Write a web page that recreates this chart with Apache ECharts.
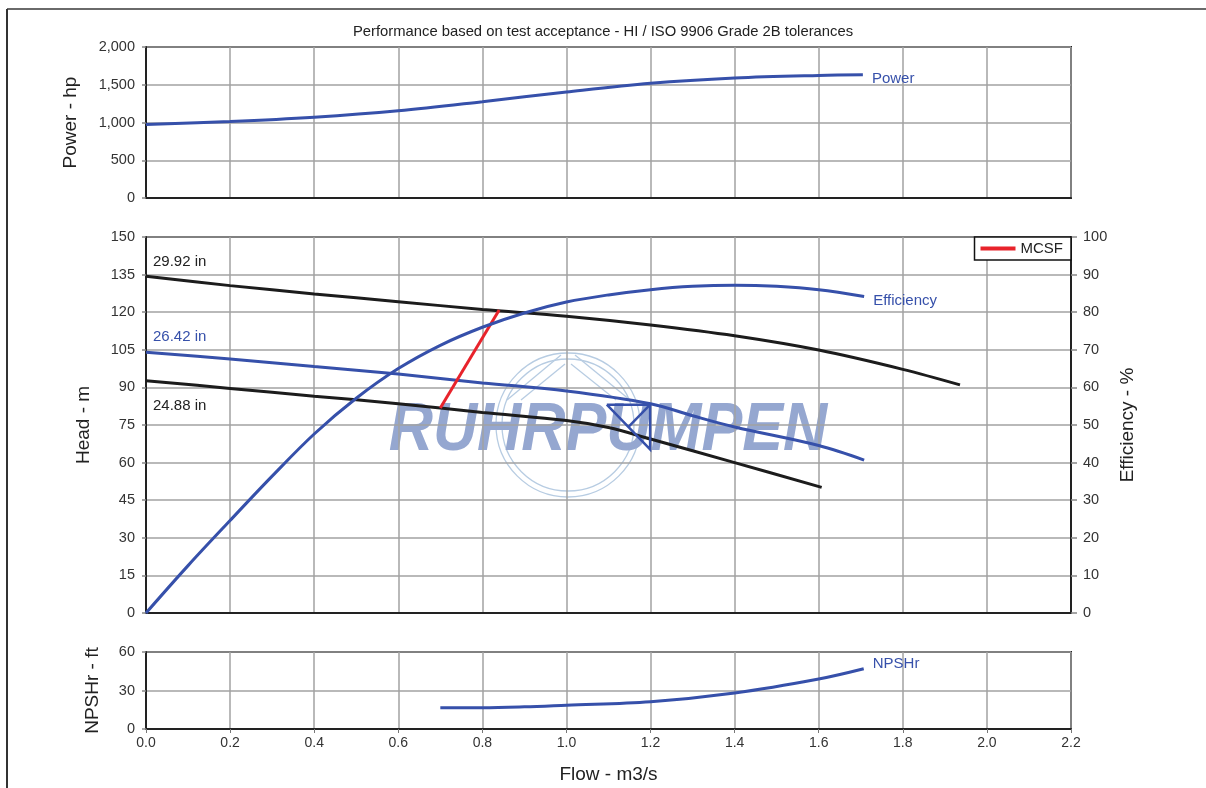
<!DOCTYPE html>
<html><head><meta charset="utf-8">
<script src="https://cdn.jsdelivr.net/npm/echarts@6/dist/echarts.min.js"></script>
<style>html,body{margin:0;padding:0;background:#fff}#c{width:1206px;height:788px}</style>
</head><body><div id="c"></div>
<script>
// ---- data ----
const xTicks = [0, 0.2, 0.4, 0.6, 0.8, 1.0, 1.2, 1.4, 1.6, 1.8, 2.0, 2.2];

const powerFlow = [0, 0.2, 0.4, 0.6, 0.8, 1.0, 1.2, 1.4, 1.6, 1.705];
const powerHp   = [975, 1013, 1070, 1155, 1275, 1405, 1520, 1590, 1624, 1632];

const head2992Flow = [0, 0.2, 0.4, 0.6, 0.8, 1.0, 1.2, 1.4, 1.6, 1.8, 1.936];
const head2992     = [134.3, 130.6, 127.3, 124.2, 121.1, 118.4, 114.9, 110.6, 104.9, 97.2, 91];

const head2642Flow = [0, 0.2, 0.4, 0.6, 0.8, 1.0, 1.2, 1.3, 1.4, 1.6, 1.708];
const head2642     = [104, 101.3, 98.3, 95.3, 91.8, 88.6, 83.5, 78.7, 74.2, 66.8, 61];

const head2488Flow = [0, 0.2, 0.4, 0.6, 0.8, 1.0, 1.1, 1.2, 1.4, 1.607];
const head2488     = [92.7, 89.6, 86.5, 83.5, 80.0, 76.8, 74.0, 69.4, 60.0, 50.1];

const mcsfFlow = [0.70, 0.84];
const mcsfHead = [81.8, 120.9];

const effFlow = [0, 0.1, 0.2, 0.3, 0.4, 0.5, 0.6, 0.7, 0.8, 0.9, 1.0, 1.1, 1.2, 1.3, 1.4, 1.5, 1.6, 1.708];
const effPct  = [0, 12.6, 24.6, 36.4, 47.6, 57.1, 65, 71.2, 76, 79.8, 82.7, 84.6, 86, 86.9, 87.2, 86.9, 86, 84.2];

const npshFlow = [0.70, 0.8, 0.9, 1.0, 1.2, 1.4, 1.6, 1.707];
const npshFt   = [16.6, 16.6, 17.3, 18.6, 21.3, 28.1, 39, 47];

const bepFlow = [1.096, 1.199, 1.199, 1.096];
const bepHead = [83.1, 83.1, 65.3, 83.1];
const bepInnerFlow = [1.199, 1.147];
const bepInnerHead = [83.1, 74.2];

const headLabels = ['29.92 in', '26.42 in', '24.88 in'];

// ---- styles ----
const BLUE = '#3650aa';
const BLACK = '#1c1c1c';
const RED = '#e8232b';
const GRIDC = '#a2a2a2';
const FONT = '"Liberation Sans", Arial, sans-serif';

function pts(xs, ys) { return xs.map((x, i) => [x, ys[i]]); }
function withFirstLabel(xs, ys, text, color, offset) {
  const d = pts(xs, ys);
  d[0] = { value: d[0], label: { show: true, formatter: text, position: 'right', distance: 5, offset: offset, color: color, fontSize: 15, fontFamily: FONT } };
  return d;
}

const chart = echarts.init(document.getElementById('c'), null, { renderer: 'canvas' });

const gridCommon = { left: 146, right: 135, show: true, borderColor: '#222', borderWidth: 2, containLabel: false };

function xAxisFor(i, showLabels) {
  return {
    type: 'value', gridIndex: i, min: 0, max: 2.2, interval: 0.2,
    axisLine: { show: true, lineStyle: { color: '#222', width: 2 } },
    axisTick: { show: showLabels, length: 4, lineStyle: { color: '#777' } },
    axisLabel: { show: showLabels, margin: 7, color: '#333', fontSize: 14, fontFamily: FONT, formatter: v => v.toFixed(1) },
    splitLine: { show: true, lineStyle: { color: GRIDC, width: 1.5 } },
    name: showLabels ? 'Flow - m3/s' : '', nameLocation: 'middle', nameGap: 36,
    nameTextStyle: { fontSize: 19, color: '#222', fontFamily: FONT }
  };
}
function yAxisFor(i, min, max, interval, name, gap, fmt, pos) {
  return {
    type: 'value', gridIndex: i, min: min, max: max, interval: interval, position: pos || 'left',
    axisLine: { show: true, lineStyle: { color: '#222', width: 2 } },
    axisTick: { show: true, length: pos === 'right' ? 6 : 4, lineStyle: { color: '#888', width: 1.5 } },
    axisLabel: { margin: pos === 'right' ? 12 : 11, color: '#333', fontSize: 14.5, fontFamily: FONT, formatter: fmt },
    splitLine: { show: pos !== 'right', lineStyle: { color: GRIDC, width: 1.5 } },
    name: name, nameLocation: 'middle', nameGap: gap, nameRotate: 90,
    nameTextStyle: { fontSize: 19, color: '#222', fontFamily: FONT }
  };
}

const lineBase = { type: 'line', smooth: 0.35, showSymbol: true, symbol: 'circle', symbolSize: 0, silent: true, animation: false, z: 5 };

const WM = '#b7cce2';
const option = {
  animation: false,
  backgroundColor: '#fff',
  title: {
    text: 'Performance based on test acceptance - HI / ISO 9906 Grade 2B tolerances',
    left: 'center', top: 19,
    textStyle: { fontSize: 14.8, fontWeight: 'normal', color: '#222', fontFamily: FONT }
  },
  legend: {
    data: [{ name: 'MCSF', icon: 'rect' }],
    right: 135, top: 237, itemWidth: 35, itemHeight: 4, itemGap: 6,
    padding: [4, 8, 4, 6], borderColor: '#111', borderWidth: 1.5, backgroundColor: '#fff',
    textStyle: { fontSize: 15, color: '#222', fontFamily: FONT }, selectedMode: false
  },
  grid: [
    Object.assign({ top: 47, height: 151 }, gridCommon),
    Object.assign({ top: 237, height: 376 }, gridCommon),
    Object.assign({ top: 652, height: 77 }, gridCommon)
  ],
  xAxis: [xAxisFor(0, false), xAxisFor(1, false), xAxisFor(2, true)],
  yAxis: [
    yAxisFor(0, 0, 2000, 500, 'Power - hp', 66, v => v.toLocaleString('en-US')),
    yAxisFor(1, 0, 150, 15, 'Head - m', 53, v => String(v)),
    yAxisFor(1, 0, 100, 10, 'Efficiency - %', 47, v => String(v), 'right'),
    yAxisFor(2, 0, 60, 30, 'NPSHr - ft', 44, v => String(v))
  ],
  graphic: [
    { type: 'line', shape: { x1: 7, y1: 9, x2: 1206, y2: 9 }, style: { stroke: '#6a6a6a', lineWidth: 2 }, z: 100 },
    { type: 'line', shape: { x1: 7, y1: 9, x2: 7, y2: 788 }, style: { stroke: '#333', lineWidth: 2 }, z: 100 },
    { type: 'circle', shape: { cx: 568, cy: 425, r: 72 }, style: { fill: 'none', stroke: WM, lineWidth: 1.3 }, z: -10 },
    { type: 'circle', shape: { cx: 568, cy: 425, r: 66 }, style: { fill: 'none', stroke: WM, lineWidth: 1.3 }, z: -10 },
    { type: 'polyline', shape: { points: [[507, 400], [561, 355]] }, style: { stroke: WM, lineWidth: 1.3 }, z: -10 },
    { type: 'polyline', shape: { points: [[521, 400], [565, 364]] }, style: { stroke: WM, lineWidth: 1.3 }, z: -10 },
    { type: 'polyline', shape: { points: [[575, 355], [630, 400]] }, style: { stroke: WM, lineWidth: 1.3 }, z: -10 },
    { type: 'polyline', shape: { points: [[571, 364], [616, 400]] }, style: { stroke: WM, lineWidth: 1.3 }, z: -10 },
    { type: 'text', x: 608, y: 431, scaleX: 0.9, originX: 0, originY: 0, z: -9,
      style: { text: 'RUHRPUMPEN', font: 'italic bold 68px "Liberation Sans", Arial, sans-serif', fill: '#95a7d0', textAlign: 'center', textVerticalAlign: 'middle' } }
  ],
  series: [
    Object.assign({}, lineBase, {
      name: 'Power', xAxisIndex: 0, yAxisIndex: 0, data: pts(powerFlow, powerHp),
      lineStyle: { color: BLUE, width: 3 }, itemStyle: { color: BLUE },
      endLabel: { show: true, formatter: 'Power', color: BLUE, fontSize: 15, fontFamily: FONT, distance: 9, offset: [0, 4] }
    }),
    Object.assign({}, lineBase, {
      name: 'h2992', xAxisIndex: 1, yAxisIndex: 1, data: withFirstLabel(head2992Flow, head2992, headLabels[0], '#222', [2, -14]),
      lineStyle: { color: BLACK, width: 3 }, itemStyle: { color: BLACK }
    }),
    Object.assign({}, lineBase, {
      name: 'h2642', xAxisIndex: 1, yAxisIndex: 1, data: withFirstLabel(head2642Flow, head2642, headLabels[1], BLUE, [2, -15]),
      lineStyle: { color: BLUE, width: 3 }, itemStyle: { color: BLUE }
    }),
    Object.assign({}, lineBase, {
      name: 'h2488', xAxisIndex: 1, yAxisIndex: 1, data: withFirstLabel(head2488Flow, head2488, headLabels[2], '#222', [2, 25]),
      lineStyle: { color: BLACK, width: 3 }, itemStyle: { color: BLACK }
    }),
    Object.assign({}, lineBase, {
      name: 'MCSF', smooth: false, xAxisIndex: 1, yAxisIndex: 1, data: pts(mcsfFlow, mcsfHead),
      lineStyle: { color: RED, width: 3 }, itemStyle: { color: RED }
    }),
    Object.assign({}, lineBase, {
      name: 'Efficiency', xAxisIndex: 1, yAxisIndex: 2, data: pts(effFlow, effPct),
      lineStyle: { color: BLUE, width: 3 }, itemStyle: { color: BLUE },
      endLabel: { show: true, formatter: 'Efficiency', color: BLUE, fontSize: 15, fontFamily: FONT, distance: 9, offset: [0, 4] }
    }),
    Object.assign({}, lineBase, {
      name: 'BEP', smooth: false, xAxisIndex: 1, yAxisIndex: 1, data: pts(bepFlow, bepHead),
      lineStyle: { color: BLUE, width: 2.5, join: 'miter' }, itemStyle: { color: BLUE }
    }),
    Object.assign({}, lineBase, {
      name: 'BEP2', smooth: false, xAxisIndex: 1, yAxisIndex: 1, data: pts(bepInnerFlow, bepInnerHead),
      lineStyle: { color: BLUE, width: 2.5 }, itemStyle: { color: BLUE }
    }),
    Object.assign({}, lineBase, {
      name: 'NPSHr', xAxisIndex: 2, yAxisIndex: 3, data: pts(npshFlow, npshFt),
      lineStyle: { color: BLUE, width: 3 }, itemStyle: { color: BLUE },
      endLabel: { show: true, formatter: 'NPSHr', color: BLUE, fontSize: 15, fontFamily: FONT, distance: 9, offset: [0, -5] }
    })
  ]
};
chart.setOption(option);
</script>
</body></html>
